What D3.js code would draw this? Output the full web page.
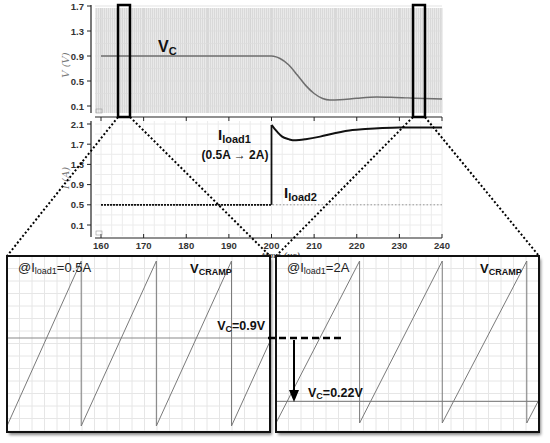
<!DOCTYPE html>
<html><head><meta charset="utf-8">
<script src="https://cdn.jsdelivr.net/npm/d3@7"></script>
<style>body{margin:0;background:#fff}svg{display:block}text{font-family:Arial,"Liberation Sans",sans-serif}</style>
</head><body>
<svg id="c" width="550" height="443"></svg>
<script>
// ---- data ----
const timeTicks = [160,170,180,190,200,210,220,230,240];
const vTicks = [0.1,0.5,0.9,1.3,1.7];
const iTicks = [0.1,0.5,0.9,1.3,1.7,2.1];
const vcTime  = [160,200,200.5,202,204,206,208,210,212,213.7,216,220,224.7,228,232,236,240];
const vcValue = [0.9,0.9,0.895,0.86,0.76,0.6,0.43,0.3,0.22,0.196,0.2,0.225,0.244,0.24,0.23,0.22,0.212];
const iload1Time  = [160,200,200,200.6,201.5,202.5,204,205,206.5,208,211.4,215,219,222,226,230,235,240];
const iload1Value = [0.5,0.5,2.08,2.02,1.93,1.85,1.8,1.78,1.785,1.8,1.85,1.92,1.98,2.0,2.02,2.03,2.03,2.03];
const iload2Time  = [160,240];
const iload2Value = [0.5,0.5];
const zoomWindows = [[164.0,166.8],[233.2,236.0]];
const leftRampT = [164.0,164.79,164.79,165.59,165.59,166.39,166.39,166.8];
const leftRampV = [0.1,1.6,0.1,1.6,0.1,1.6,0.1,0.87];
const rightRampT = [233.2,234.09,234.09,234.97,234.97,235.87,235.87,236.0];
const rightRampV = [0.1,1.0,0.1,1.0,0.1,1.0,0.1,0.23];
const vcLevels = [0.9,0.22];

const svg = d3.select('#c');
const defs = svg.append('defs');
const pat = defs.append('pattern').attr('id','stripes').attr('width',2).attr('height',10).attr('patternUnits','userSpaceOnUse');
pat.append('rect').attr('width',2).attr('height',10).attr('fill','#e9e9e9');
pat.append('rect').attr('x',0).attr('width',1).attr('height',10).attr('fill','#d9d9d9');
const f = defs.append('filter').attr('id','sh').attr('x','-5%').attr('y','-5%').attr('width','115%').attr('height','115%');
f.append('feGaussianBlur').attr('stdDeviation',1.5);

const x = d3.scaleLinear().domain([160,240]).range([101,442]);
const yV = d3.scaleLinear().domain([0.1,1.7]).range([106,6]);
const yI = d3.scaleLinear().domain([0.1,2.1]).range([225,124]);
const axCol = '#222';
const tickFont = 'bold 9.5px Arial';

// ---- top chart ----
svg.append('rect').attr('x',95).attr('y',8).attr('width',347).attr('height',105).attr('fill','url(#stripes)');
d3.range(160,240.1,5).forEach(t=>svg.append('line').attr('x1',x(t)).attr('x2',x(t)).attr('y1',8).attr('y2',113).attr('stroke','#d2d2d2').attr('stroke-width',0.8));
d3.range(0.1,1.75,0.2).forEach(v=>svg.append('line').attr('x1',95).attr('x2',442).attr('y1',yV(v)).attr('y2',yV(v)).attr('stroke','#dcdcdc').attr('stroke-width',0.8));
svg.append('line').attr('x1',91).attr('x2',91).attr('y1',5).attr('y2',113).attr('stroke',axCol).attr('stroke-width',1.2);
vTicks.forEach(v=>{
  svg.append('line').attr('x1',87).attr('x2',91).attr('y1',yV(v)).attr('y2',yV(v)).attr('stroke',axCol);
  svg.append('text').attr('x',84).attr('y',yV(v)+3.5).attr('text-anchor','end').attr('fill','#333').style('font',tickFont).text(v.toFixed(1));
});
svg.append('line').attr('x1',95).attr('x2',442).attr('y1',117).attr('y2',117).attr('stroke',axCol).attr('stroke-width',1.2);
timeTicks.forEach(t=>svg.append('line').attr('x1',x(t)).attr('x2',x(t)).attr('y1',117).attr('y2',121).attr('stroke',axCol));
svg.append('text').attr('transform','translate(69,65) rotate(-90)').attr('text-anchor','middle')
  .style('font','italic 10px "DejaVu Serif",serif').attr('fill','#777').text('V (V)');
svg.append('rect').attr('x',96).attr('y',109).attr('width',6).attr('height',4).attr('fill','none').attr('stroke','#999').attr('stroke-width',0.6);
const vcLine = d3.line().x((d,i)=>x(vcTime[i])).y((d,i)=>yV(vcValue[i])).curve(d3.curveMonotoneX);
svg.append('path').attr('d',vcLine(vcTime)).attr('fill','none').attr('stroke','#6e6e6e').attr('stroke-width',1.5);
const vcT = svg.append('text').attr('x',158).attr('y',52).attr('fill','#111').style('font','bold 16px Arial');
vcT.append('tspan').text('V');
vcT.append('tspan').attr('dy',3).style('font-size','11px').text('C');

// ---- middle chart ----
const gridM = svg.append('g');
d3.range(160,240.1,2.5).forEach(t=>gridM.append('line').attr('x1',x(t)).attr('x2',x(t)).attr('y1',121).attr('y2',236).attr('stroke','#ececec'));
d3.range(0.1,2.15,0.2).forEach(v=>gridM.append('line').attr('x1',95).attr('x2',442).attr('y1',yI(v)).attr('y2',yI(v)).attr('stroke','#ececec'));
svg.append('line').attr('x1',91).attr('x2',91).attr('y1',121).attr('y2',237).attr('stroke',axCol).attr('stroke-width',1.2);
iTicks.forEach(v=>{
  svg.append('line').attr('x1',87).attr('x2',91).attr('y1',yI(v)).attr('y2',yI(v)).attr('stroke',axCol);
  svg.append('text').attr('x',84).attr('y',yI(v)+3.5).attr('text-anchor','end').attr('fill','#333').style('font',tickFont).text(v.toFixed(1));
});
svg.append('line').attr('x1',95).attr('x2',442).attr('y1',238).attr('y2',238).attr('stroke',axCol).attr('stroke-width',1.2);
timeTicks.forEach(t=>{
  svg.append('line').attr('x1',x(t)).attr('x2',x(t)).attr('y1',234).attr('y2',238).attr('stroke',axCol);
  svg.append('text').attr('x',x(t)).attr('y',249).attr('text-anchor','middle').attr('fill','#333').style('font',tickFont).text(t);
});
svg.append('text').attr('x',281).attr('y',257.5).attr('text-anchor','middle').style('font','bold italic 7.5px "DejaVu Serif",serif').attr('fill','#555').text('time (us)');
svg.append('text').attr('transform','translate(69,178) rotate(-90)').attr('text-anchor','middle')
  .style('font','italic 10px "DejaVu Serif",serif').attr('fill','#777').text('I (A)');
svg.append('rect').attr('x',96).attr('y',231).attr('width',6).attr('height',4).attr('fill','none').attr('stroke','#999').attr('stroke-width',0.6);
const iLine = (T,V)=>d3.line().x((d,i)=>x(T[i])).y((d,i)=>yI(V[i]))(T);
svg.append('path').attr('d',iLine(iload2Time,iload2Value)).attr('fill','none').attr('stroke','#999').attr('stroke-width',1).attr('stroke-dasharray','1.5,2');
svg.append('path').attr('d',d3.line().x(i=>x(iload1Time[i])).y(i=>yI(iload1Value[i]))([0,1]))
  .attr('fill','none').attr('stroke','#111').attr('stroke-width',1.8).attr('stroke-dasharray','2,1');
svg.append('path').attr('d',d3.line().x(i=>x(iload1Time[i])).y(i=>yI(iload1Value[i]))([1,2])).attr('fill','none').attr('stroke','#111').attr('stroke-width',1.8);
svg.append('path').attr('d',d3.line().x(i=>x(iload1Time[i])).y(i=>yI(iload1Value[i])).curve(d3.curveMonotoneX)(d3.range(2,iload1Time.length)))
  .attr('fill','none').attr('stroke','#111').attr('stroke-width',2);
const il1 = svg.append('text').attr('x',218).attr('y',140).attr('fill','#111').style('font','bold 15px Arial');
il1.append('tspan').text('I');
il1.append('tspan').attr('dy',3).style('font-size','11px').text('load1');
svg.append('text').attr('x',235).attr('y',159).attr('text-anchor','middle').attr('fill','#111').style('font','bold 12px Arial').text('(0.5A \u2192 2A)');
const il2 = svg.append('text').attr('x',284).attr('y',198).attr('fill','#111').style('font','bold 15px Arial');
il2.append('tspan').text('I');
il2.append('tspan').attr('dy',3).style('font-size','11px').text('load2');

// ---- zoom boxes & connectors ----
const panels = [{x0:7,x1:270},{x0:276,x1:539}];
const pTop = 256, pBot = 432;
zoomWindows.forEach((w,k)=>{
  svg.append('rect').attr('x',x(w[0])).attr('y',5).attr('width',x(w[1])-x(w[0])).attr('height',112)
    .attr('fill','none').attr('stroke','#000').attr('stroke-width',2.5);
  svg.append('line').attr('x1',x(w[0])).attr('y1',117).attr('x2',panels[k].x0).attr('y2',pTop).attr('stroke','#000').attr('stroke-width',2).attr('stroke-dasharray','2,2.2');
  svg.append('line').attr('x1',x(w[1])).attr('y1',117).attr('x2',panels[k].x1).attr('y2',pTop).attr('stroke','#000').attr('stroke-width',2).attr('stroke-dasharray','2,2.2');
});

// ---- panels ----
const rampT = [leftRampT,rightRampT], rampV = [leftRampV,rightRampV];
const pY = [d3.scaleLinear().domain([0.1,1.6]).range([426,261]), d3.scaleLinear().domain([0.1,1.0]).range([423,261])];
panels.forEach((p,k)=>{
  const g = svg.append('g');
  g.append('rect').attr('x',p.x0+2).attr('y',pTop+3).attr('width',p.x1-p.x0).attr('height',pBot-pTop).attr('fill','#888').attr('filter','url(#sh)');
  g.append('rect').attr('x',p.x0).attr('y',pTop).attr('width',p.x1-p.x0).attr('height',pBot-pTop).attr('fill','#fff');
  d3.range(p.x0+12.5,p.x1,12.5).forEach(gx=>g.append('line').attr('x1',gx).attr('x2',gx).attr('y1',pTop).attr('y2',pBot).attr('stroke','#e6e6e6'));
  d3.range(pTop+12.5,pBot,12.5).forEach(gy=>g.append('line').attr('x1',p.x0).attr('x2',p.x1).attr('y1',gy).attr('y2',gy).attr('stroke','#e6e6e6'));
  const px = d3.scaleLinear().domain(zoomWindows[k]).range([p.x0,p.x1]);
  g.append('line').attr('x1',p.x0).attr('x2',p.x1).attr('y1',pY[k](vcLevels[k])).attr('y2',pY[k](vcLevels[k])).attr('stroke','#8a8a8a').attr('stroke-width',1.2);
  g.append('path').attr('d',d3.line().x((d,i)=>px(rampT[k][i])).y((d,i)=>pY[k](rampV[k][i]))(rampT[k]))
    .attr('fill','none').attr('stroke','#7a7a7a').attr('stroke-width',1);
  g.append('rect').attr('x',p.x0).attr('y',pTop).attr('width',p.x1-p.x0).attr('height',pBot-pTop).attr('fill','none').attr('stroke','#111').attr('stroke-width',2);
  const at = g.append('text').attr('x',p.x0+11).attr('y',272).attr('fill','#222').style('font','13px Arial');
  at.append('tspan').text('@I');
  at.append('tspan').attr('dy',2).style('font-size','9px').text('load1');
  at.append('tspan').attr('dy',-2).text(k===0?'=0.5A':'=2A');
  const vr = g.append('text').attr('x',k===0?190:480).attr('y',273).attr('fill','#111').style('font','bold 13px Arial');
  vr.append('tspan').text('V');
  vr.append('tspan').attr('dy',2).style('font-size','9px').text('CRAMP');
});
// Vc labels
const vl1 = svg.append('text').attr('x',265).attr('y',330).attr('text-anchor','end').attr('fill','#111').style('font','bold 12.5px Arial');
vl1.append('tspan').text('V');
vl1.append('tspan').attr('dy',2).style('font-size','9px').text('C');
vl1.append('tspan').attr('dy',-2).text('=0.9V');
const vl2 = svg.append('text').attr('x',308).attr('y',397).attr('fill','#111').style('font','bold 12.5px Arial');
vl2.append('tspan').text('V');
vl2.append('tspan').attr('dy',2).style('font-size','9px').text('C');
vl2.append('tspan').attr('dy',-2).text('=0.22V');
// dashed level + arrow
const yL = pY[0](vcLevels[0]);
svg.append('line').attr('x1',268).attr('x2',342).attr('y1',yL).attr('y2',yL).attr('stroke','#000').attr('stroke-width',2.5).attr('stroke-dasharray','7,4');
svg.append('line').attr('x1',294).attr('x2',294).attr('y1',yL+2).attr('y2',392).attr('stroke','#000').attr('stroke-width',2);
svg.append('path').attr('d','M289,390 L299,390 L294,402 Z').attr('fill','#000');
</script>
</body></html>
